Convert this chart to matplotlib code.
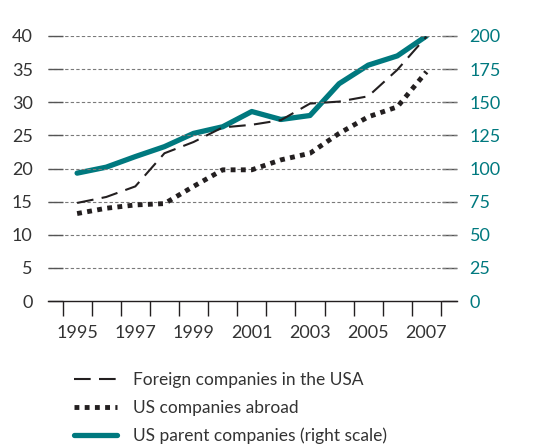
import numpy as np
import matplotlib.pyplot as plt

plt.rcParams['font.family'] = ['Lato', 'DejaVu Sans']

# Data
years = np.arange(1995, 2008)
foreign_in_usa = [14.8, 15.7, 17.3, 22.3, 24.0, 26.2, 26.6, 27.3, 29.8, 30.1, 30.9, 34.9, 39.9]
us_abroad = [13.2, 14.0, 14.5, 14.7, 17.3, 19.8, 19.8, 21.3, 22.3, 25.3, 27.8, 29.3, 34.6]
us_parent = [96.5, 101, 109, 116.5, 126.5, 131.5, 143, 137, 140, 164, 178, 185, 200]

left_ticks = np.arange(0, 41, 5)
right_ticks = np.arange(0, 201, 25)
year_labels = np.arange(1995, 2008, 2)

teal = '#00797f'
dark = '#231f20'
grid_col = '#7a7a7a'

fig = plt.figure(figsize=(5.4, 4.45), dpi=100)
ax = fig.add_axes([48 / 540, 1 - 301 / 445, 409 / 540, 265 / 445])
ax2 = ax.twinx()

# gridlines
for t in left_ticks[1:]:
    ax.axhline(t, color=grid_col, lw=0.8, ls=(0, (3, 2)), zorder=0)

l3, = ax2.plot(years, us_parent, color=teal, lw=3.8, solid_capstyle='round',
               solid_joinstyle='round', zorder=2)
l1, = ax.plot(years, foreign_in_usa, color=dark, lw=1.5, dashes=(8, 4), zorder=3)
l2, = ax.plot(years, us_abroad, color=dark, lw=3.5, dashes=(1, 1.1),
              dash_capstyle='butt', zorder=3)
ax.set_zorder(ax2.get_zorder() + 1)
ax.patch.set_visible(False)

ax.set_xlim(1994.0, 2008.05)
ax.set_ylim(0, 40)
ax2.set_ylim(0, 200)

for a in (ax, ax2):
    for s in ('top', 'left', 'right'):
        a.spines[s].set_visible(False)
ax2.spines['bottom'].set_visible(False)
ax.spines['bottom'].set_color(dark)
ax.spines['bottom'].set_linewidth(1.0)

ax.set_yticks(left_ticks)
ax.tick_params(axis='y', direction='in', length=11, width=1.0, color='#555555',
               pad=11, labelsize=13, labelcolor='#333333')
ax2.set_yticks(right_ticks)
ax2.tick_params(axis='y', direction='in', length=11, width=1.0, color='#555555',
                pad=9, labelsize=13, labelcolor=teal)

ax.set_xticks(year_labels)
ax.set_xticks(np.arange(1994.5, 2008, 1), minor=True)
ax.tick_params(axis='x', which='major', length=0, pad=17, labelsize=13, labelcolor='#333333')
ax.tick_params(axis='x', which='minor', direction='out', length=11, width=1.0, color=dark)

fig.legend([l1, l2, l3],
           ['Foreign companies in the USA', 'US companies abroad',
            'US parent companies (right scale)'],
           loc='upper left', bbox_to_anchor=(58 / 540, 1 - 356 / 445),
           frameon=False, fontsize=12.5, handlelength=2.5, handletextpad=0.9,
           labelspacing=0.7, labelcolor='#333333')

fig.savefig('out.png', dpi=100)
